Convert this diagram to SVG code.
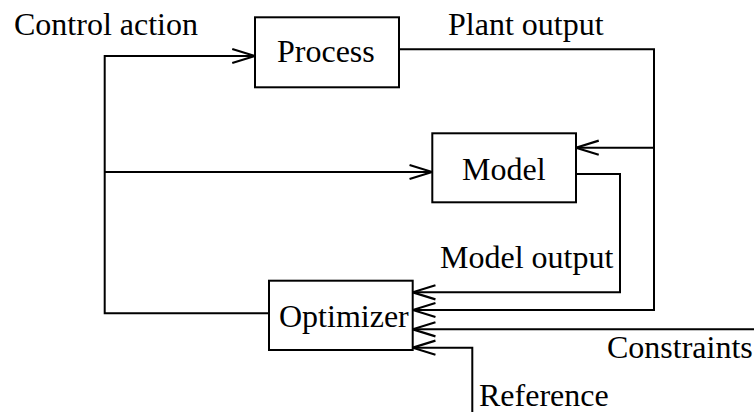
<svg xmlns="http://www.w3.org/2000/svg" width="754" height="412" viewBox="0 0 754 412">
  <style>
    .box { fill: #fff; stroke: #000; stroke-width: 2; }
    .wire { fill: none; stroke: #000; stroke-width: 2; }
    .lbl { font-family: "Liberation Serif", "Times New Roman", serif; font-size: 32px; fill: #000; }
  </style>
  <defs>
    <marker id="open-arrow" markerUnits="userSpaceOnUse" markerWidth="26" markerHeight="18" viewBox="-22 -8 24 16" refX="0" refY="0" orient="auto">
      <path d="M-21,-6.5 L0,0 L-21,6.5" fill="none" stroke="#000" stroke-width="2"/>
    </marker>
  </defs>

  <g id="connectors">
    <!-- control action from optimizer to process and model -->
    <path class="wire" d="M269,313.3 H104.7 V56 H255" marker-end="url(#open-arrow)"/>
    <path class="wire" d="M104.7,172 H432.3" marker-end="url(#open-arrow)"/>
    <!-- plant output fed back to model and optimizer -->
    <path class="wire" d="M399,49.3 H654 V310 H412.7" marker-end="url(#open-arrow)"/>
    <path class="wire" d="M654,147.7 H576" marker-end="url(#open-arrow)"/>
    <!-- model output -->
    <path class="wire" d="M576,174 H620 V292.3 H412.7" marker-end="url(#open-arrow)"/>
    <!-- constraints -->
    <path class="wire" d="M754,329.3 H412.7" marker-end="url(#open-arrow)"/>
    <!-- reference -->
    <path class="wire" d="M472.3,412 V347.7 H412.7" marker-end="url(#open-arrow)"/>
  </g>

  <g id="process">
    <rect class="box" x="255" y="17.3" width="144" height="70"/>
    <text class="lbl" x="277" y="62">Process</text>
  </g>

  <g id="model">
    <rect class="box" x="432.3" y="133.3" width="143.7" height="69"/>
    <text class="lbl" x="462" y="179.5">Model</text>
  </g>

  <g id="optimizer">
    <rect class="box" x="269" y="280.7" width="143.7" height="69.3"/>
    <text class="lbl" x="279" y="327">Optimizer</text>
  </g>

  <g id="labels">
    <text class="lbl" x="14" y="35">Control action</text>
    <text class="lbl" x="448" y="35">Plant output</text>
    <text class="lbl" x="440" y="268">Model output</text>
    <text class="lbl" x="607" y="358">Constraints</text>
    <text class="lbl" x="479" y="406">Reference</text>
  </g>
</svg>
